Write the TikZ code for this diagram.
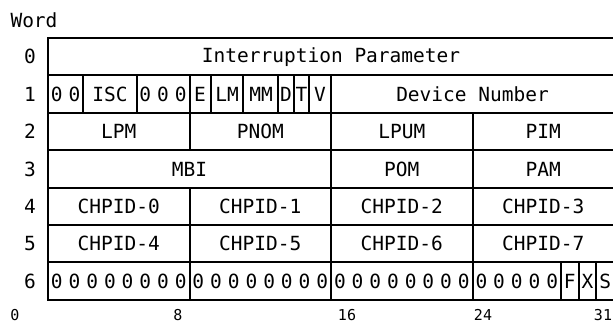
\documentclass[tikz,border=0pt]{standalone}
\usepackage{fontspec}
\setmonofont{DejaVu Sans Mono}
\usetikzlibrary{positioning}
\tikzset{
  field/.style={font=\ttfamily\fontsize{19.5}{20}\selectfont, inner sep=0pt},
  bitnum/.style={font=\ttfamily\fontsize{15}{15}\selectfont, inner sep=0pt},
  rule/.style={line width=2pt},
}
% bit column and word row positions
\newcommand{\bx}[1]{48+17.69*(#1)}
\newcommand{\ry}[1]{38+37.4*(#1)}
\newcommand{\rc}[1]{38+37.4*(#1)+18.7}

\begin{document}
\begin{tikzpicture}[x=1pt, y=-1pt]
  \useasboundingbox (0,0) rectangle (613,325);
  \clip (0,0) rectangle (613,325);

  % Frame and word rules
  \draw[rule, line width=2.5pt] (47,38) -- (620,38);
  \foreach \r in {1,...,7}
    \draw[rule] (48,{\ry{\r}}) -- (620,{\ry{\r}});
  \draw[rule] (48,37) -- (48,{\ry{7}+1});

  % Header and word numbers
  \node[field] (word) at (34,20) {Word};
  \foreach \r in {0,...,6}
    \node[field] (w\r) at (30,{\rc{\r}}) {\r};

  % Word 0
  \node[field] (intparm) at ({\bx{16}},{\rc{0}}) {Interruption Parameter};

  % Word 1
  \foreach \x in {83.4,136.5,189.5,211,243,278,294,309,331}
    \draw[rule] (\x,{\ry{1}}) -- (\x,{\ry{2}});
  \foreach \b in {0,1,5,6,7}
    \node[field] (z1-\b) at ({\bx{\b+0.5}},{\rc{1}}) {0};
  \node[field] (isc) at ({\bx{3.5}},{\rc{1}}) {ISC};
  \node[field] (e) at (200,{\rc{1}}) {E};
  \node[field] (lm) at (227,{\rc{1}}) {LM};
  \node[field] (mm) at (261,{\rc{1}}) {MM};
  \node[field] (d) at (286,{\rc{1}}) {D};
  \node[field] (t) at (301.5,{\rc{1}}) {T};
  \node[field] (v) at (320,{\rc{1}}) {V};
  \node[field] (devnum) at ({\bx{24}},{\rc{1}}) {Device Number};

  % Word 2
  \foreach \b in {8,16,24}
    \draw[rule] ({\bx{\b}},{\ry{2}}) -- ({\bx{\b}},{\ry{3}});
  \node[field] (lpm) at ({\bx{4}},{\rc{2}}) {LPM};
  \node[field] (pnom) at ({\bx{12}},{\rc{2}}) {PNOM};
  \node[field] (lpum) at ({\bx{20}},{\rc{2}}) {LPUM};
  \node[field] (pim) at ({\bx{28}},{\rc{2}}) {PIM};

  % Word 3
  \foreach \b in {16,24}
    \draw[rule] ({\bx{\b}},{\ry{3}}) -- ({\bx{\b}},{\ry{4}});
  \node[field] (mbi) at ({\bx{8}},{\rc{3}}) {MBI};
  \node[field] (pom) at ({\bx{20}},{\rc{3}}) {POM};
  \node[field] (pam) at ({\bx{28}},{\rc{3}}) {PAM};

  % Words 4 and 5
  \foreach \b in {8,16,24}
    \draw[rule] ({\bx{\b}},{\ry{4}}) -- ({\bx{\b}},{\ry{6}});
  \foreach \c in {0,...,3} {
    \pgfmathtruncatemacro{\d}{\c+4}
    \node[field] (chp\c) at ({\bx{8*\c+4}},{\rc{4}}) {CHPID-\c};
    \node[field] (chp\d) at ({\bx{8*\c+4}},{\rc{5}}) {CHPID-\d};
  }

  % Word 6
  \foreach \b in {8,16,24,29,30,31}
    \draw[rule] ({\bx{\b}},{\ry{6}}) -- ({\bx{\b}},{\ry{7}});
  \foreach \b in {0,...,28}
    \node[field] (z6-\b) at ({\bx{\b+0.5}},{\rc{6}}) {0};
  \node[field] (f) at ({\bx{29.5}},{\rc{6}}) {F};
  \node[field] (x) at ({\bx{30.5}},{\rc{6}}) {X};
  \node[field] (s) at ({\bx{31.5}},{\rc{6}}) {S};

  % Bit numbers
  \node[bitnum] (b0) at (15,315) {0};
  \node[bitnum] (b8) at (178,315) {8};
  \node[bitnum] (b16) at (347,315) {16};
  \node[bitnum] (b24) at (483,315) {24};
  \node[bitnum] (b31) at (603,315) {31};
\end{tikzpicture}
\end{document}
